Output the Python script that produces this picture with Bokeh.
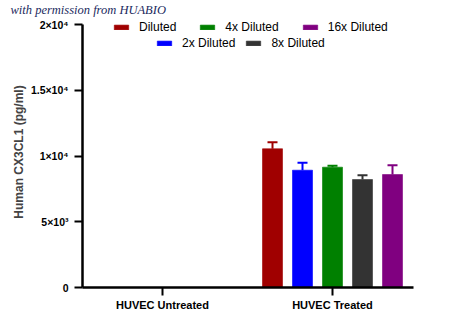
from bokeh.plotting import figure
from bokeh.models import (ColumnDataSource, Range1d, FixedTicker, Legend, LegendItem,
                          Whisker, TeeHead, Title)
from bokeh.embed import file_html
from bokeh.resources import INLINE

# ---- data ----
groups = ["HUVEC Untreated", "HUVEC Treated"]
series = ["Diluted", "2x Diluted", "4x Diluted", "8x Diluted", "16x Diluted"]
colors = ["#a00000", "#0000ff", "#008000", "#333333", "#800080"]
# values per series: [Untreated, Treated]
means = {
    "Diluted":     [0, 10550],
    "2x Diluted":  [0, 8920],
    "4x Diluted":  [0, 9150],
    "8x Diluted":  [0, 8210],
    "16x Diluted": [0, 8590],
}
errors = {
    "Diluted":     [0, 500],
    "2x Diluted":  [0, 560],
    "4x Diluted":  [0, 100],
    "8x Diluted":  [0, 330],
    "16x Diluted": [0, 710],
}
y_ticks = [0, 5000, 10000, 15000, 20000]
y_tick_labels = ["0", "5×10³", "1×10⁴", "1.5×10⁴", "2×10⁴"]

step = 30 / 170
bar_w = 20 / 170
frame_top = 16
y_top = 20000 * (287 - frame_top) / 263

p = figure(width=450, height=325, output_backend="svg", toolbar_location=None,
           x_range=Range1d(-80 / 170, 251 / 170), y_range=Range1d(0, y_top),
           min_border_left=82, min_border_right=37, min_border_top=frame_top,
           min_border_bottom=38)
p.outline_line_color = None
p.grid.grid_line_color = None
p.background_fill_color = "white"
p.border_fill_color = "white"

p.title = Title(text="with permission from HUABIO", align="left", offset=-72,
                standoff=0, text_font="Liberation Serif", text_font_style="italic",
                text_font_size="12.5px", text_color="#1b2a5e")

renderers = []
for k, s in enumerate(series):
    rows = [(g + (k - 2) * step, m, m + e)
            for g, (m, e) in enumerate(zip(means[s], errors[s])) if m > 0]
    src = ColumnDataSource(dict(x=[r[0] for r in rows], top=[r[1] for r in rows],
                                upper=[r[2] for r in rows]))
    r = p.vbar(x="x", top="top", width=bar_w, source=src, fill_color=colors[k],
               line_color=colors[k], line_alpha=0.6, line_width=1)
    w = Whisker(base="x", lower="top", upper="upper", source=src, dimension="height",
                line_color=colors[k], line_width=2,
                upper_head=TeeHead(size=10, line_color=colors[k], line_width=2),
                lower_head=None, level="underlay")
    p.add_layout(w)
    renderers.append(r)

# axes
for ax in (p.xaxis[0], p.yaxis[0]):
    ax.axis_line_width = 2.5
    ax.axis_line_color = "black"
    ax.major_tick_line_width = 2
    ax.major_tick_line_color = "black"
    ax.minor_tick_line_color = None
    ax.major_tick_out = 8
    ax.major_tick_in = 0
    ax.major_label_text_font = "Liberation Sans"
    ax.major_label_text_font_style = "bold"
    ax.major_label_text_color = "black"

p.yaxis.bounds = (0, 20000)
p.yaxis.ticker = FixedTicker(ticks=y_ticks)
p.yaxis.major_label_overrides = {t: l for t, l in zip(y_ticks, y_tick_labels)}
p.yaxis.major_label_text_font_size = "10.5px"
p.yaxis.major_label_standoff = 6
p.yaxis.axis_label = "Human CX3CL1 (pg/ml)"
p.yaxis.axis_label_text_font = "Liberation Sans"
p.yaxis.axis_label_text_font_style = "bold"
p.yaxis.axis_label_text_font_size = "12px"
p.yaxis.axis_label_standoff = 2

p.xaxis.ticker = FixedTicker(ticks=list(range(len(groups))))
p.xaxis.major_label_overrides = {i: g for i, g in enumerate(groups)}
p.xaxis.major_label_text_font_size = "11px"
p.xaxis.major_label_standoff = 3

# legends (two centered rows)
def make_legend(idx, loc, spacing):
    lg = Legend(items=[LegendItem(label=series[i], renderers=[renderers[i]]) for i in idx],
                location=loc, orientation="horizontal", glyph_width=18, glyph_height=6,
                label_standoff=9, spacing=spacing, padding=0, margin=0,
                border_line_color=None, background_fill_alpha=0,
                label_text_font="Liberation Sans", label_text_font_size="12px",
                label_text_color="black")
    return lg

p.add_layout(make_legend([0, 2, 4], (30, 253), 22))
p.add_layout(make_legend([1, 3], (73, 237), 9))

open("out.html", "w").write(file_html(p, INLINE))
